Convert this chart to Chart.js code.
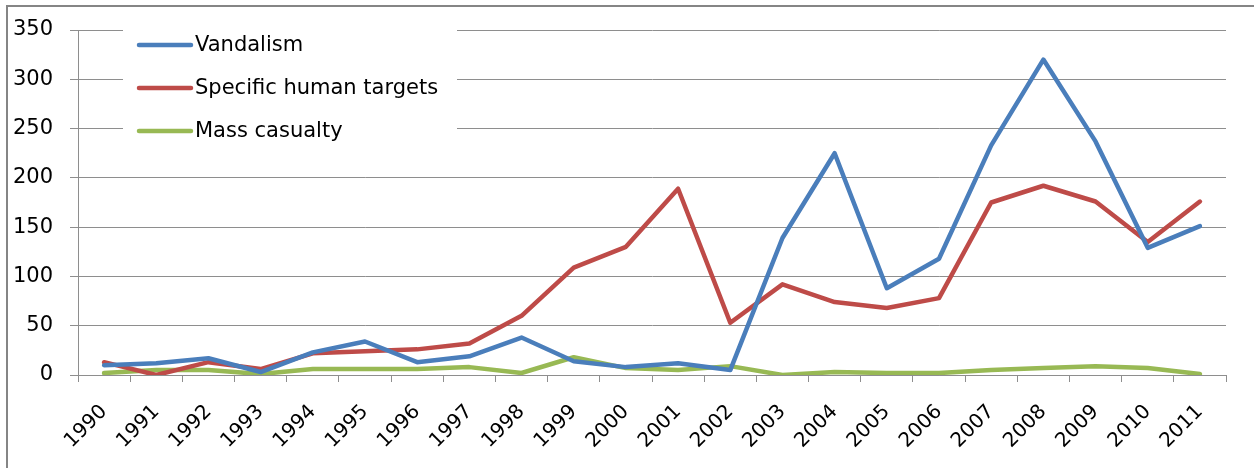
<!DOCTYPE html>
<html>
<head>
<meta charset="utf-8">
<title>Incidents by type</title>
<script src="https://cdn.jsdelivr.net/npm/chart.js@4/dist/chart.umd.min.js"></script>
<style>
    html, body { margin: 0; padding: 0; background: #fff; }
    canvas { display: block; }
</style>
</head>
<body>
<canvas id="lineChart" width="1254" height="468"></canvas>
<script>
let years = ['1990','1991','1992','1993','1994','1995','1996','1997','1998','1999','2000',
             '2001','2002','2003','2004','2005','2006','2007','2008','2009','2010','2011'];

let vandalism = [10, 12, 17, 3, 23, 34, 13, 19, 38, 14, 8, 12, 5, 139, 225, 88, 118, 233, 320, 237, 129, 151];
let humanTargets = [13, 0, 13, 6, 22, 24, 26, 32, 60, 109, 130, 189, 53, 92, 74, 68, 78, 175, 192, 176, 135, 176];
let massCasualty = [2, 5, 5, 1, 6, 6, 6, 8, 2, 18, 7, 5, 9, 0, 3, 2, 2, 5, 7, 9, 7, 1];

let grey = '#8e8e8e';

Chart.defaults.font.family = 'DejaVu Sans';
Chart.defaults.font.size = 21;
Chart.defaults.color = '#000';

// frame round the whole chart (top and left edges only)
let frame = {
    id: 'frame',
    beforeDraw(chart) {
        let ctx = chart.ctx;
        ctx.save();
        ctx.fillStyle = '#fff';
        ctx.fillRect(0, 0, chart.width, chart.height);
        ctx.fillStyle = '#858585';
        ctx.fillRect(6, 5, chart.width - 6, 2);
        ctx.fillRect(6, 5, 2, chart.height - 5);
        ctx.restore();
    }
};

// legend sits inside the plot, on a white box over the grid
let boxLegend = {
    id: 'boxLegend',
    beforeDatasetsDraw(chart) {
        let ctx = chart.ctx;
        let area = chart.chartArea;
        let x0 = area.left + 45;
        let y0 = area.top - 10;
        ctx.save();
        ctx.fillStyle = '#fff';
        ctx.fillRect(x0, y0, 334, 134);
        ctx.font = '21px "DejaVu Sans"';
        ctx.textBaseline = 'middle';
        ctx.lineCap = 'round';
        ctx.lineWidth = 4.5;
        chart.data.datasets.forEach(function(ds, i) {
            let y = area.top + 15 + i * 43;
            ctx.strokeStyle = ds.borderColor;
            ctx.beginPath();
            ctx.moveTo(x0 + 16, y);
            ctx.lineTo(x0 + 68, y);
            ctx.stroke();
            ctx.fillStyle = '#000';
            ctx.fillText(ds.label, x0 + 72, y + 1);
        });
        ctx.restore();
    }
};

let lineChart = document.querySelector('#lineChart').getContext('2d');

let line_Chart = new Chart(lineChart, {
    type: 'line',
    data: {
        labels: years,
        datasets: [{
            label: 'Vandalism',
            data: vandalism,
            borderColor: '#4a7ebb'
        }, {
            label: 'Specific human targets',
            data: humanTargets,
            borderColor: '#be4b48'
        }, {
            label: 'Mass casualty',
            data: massCasualty,
            borderColor: '#98b954'
        }]
    },
    options: {
        responsive: false,
        animation: false,
        layout: { padding: { left: 0, right: 28, top: 30, bottom: 0 } },
        elements: {
            point: { radius: 0 },
            line: { borderWidth: 4.5, borderJoinStyle: 'round', borderCapStyle: 'round', tension: 0 }
        },
        plugins: {
            legend: { display: false },
            tooltip: { enabled: false }
        },
        scales: {
            x: {
                offset: true,
                grid: { offset: true, drawOnChartArea: false, color: grey, tickLength: 7 },
                border: { color: grey },
                ticks: { autoSkip: false, minRotation: 45, maxRotation: 45, padding: 18, font: { size: 20 } },
                afterFit(scale) { scale.height = 93; }
            },
            y: {
                min: 0,
                max: 350,
                ticks: { stepSize: 50, padding: 17 },
                grid: { color: grey, tickLength: 8 },
                border: { color: grey },
                afterFit(scale) { scale.width = 78; }
            }
        }
    },
    plugins: [frame, boxLegend]
});
</script>
</body>
</html>
